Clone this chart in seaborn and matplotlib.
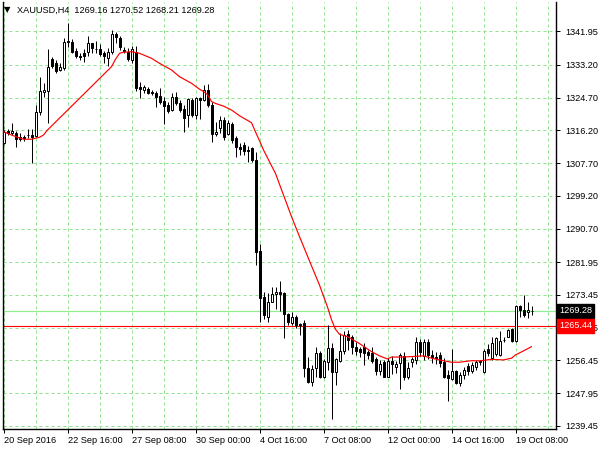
import numpy as np
import pandas as pd
import matplotlib
matplotlib.use("Agg")
import matplotlib.pyplot as plt
import seaborn as sns
from matplotlib.transforms import blended_transform_factory

# ---------------- data (XAUUSD, H4) ----------------
opens = [1313.0, 1316.1, 1315.45, 1315.6, 1314.6, 1314.4, 1314.9, 1315.0, 1314.7, 1321.0,
         1326.3, 1326.5, 1334.75, 1333.6, 1331.9, 1332.3, 1339.3, 1339.25, 1336.9, 1335.5,
         1336.2, 1336.65, 1338.8, 1337.4, 1337.3, 1336.2, 1334.9, 1336.65, 1341.25, 1340.1,
         1337.0, 1336.5, 1334.5, 1336.65, 1327.55, 1326.7, 1326.9, 1326.05, 1325.85, 1325.1,
         1323.9, 1322.8, 1321.5, 1324.95, 1323.4, 1321.75, 1320.2, 1324.1, 1320.2, 1324.7,
         1324.1, 1326.7, 1322.8, 1315.25, 1316.75, 1319.0, 1315.25, 1317.85, 1314.15, 1311.95,
         1312.4, 1311.2, 1311.5, 1308.5, 1284.85, 1273.0, 1267.8, 1271.7, 1273.7, 1274.3,
         1273.85, 1268.5, 1266.2, 1267.6, 1265.9, 1266.05, 1254.4, 1250.9, 1254.4, 1258.4,
         1252.2, 1256.1, 1259.6, 1253.5, 1256.35, 1258.8, 1263.2, 1262.6, 1260.0, 1259.3,
         1259.8, 1258.6, 1258.3, 1256.7, 1253.7, 1255.9, 1252.2, 1256.2, 1254.8, 1255.65,
         1257.5, 1252.0, 1256.0, 1256.5, 1261.25, 1257.55, 1261.25, 1257.9, 1257.2, 1257.8,
         1256.1, 1252.65, 1251.5, 1253.75, 1250.6, 1252.6, 1255.0, 1253.75, 1254.6, 1255.9,
         1253.5, 1259.3, 1256.95, 1258.1, 1257.8, 1261.8, 1262.6, 1264.5, 1261.55, 1270.5,
         1269.6, 1268.9, 1269.16]
highs = [1316.3, 1316.5, 1318.0, 1316.0, 1315.45, 1314.9, 1316.5, 1316.5, 1322.8, 1330.0,
         1328.6, 1337.3, 1335.3, 1334.5, 1333.6, 1340.1, 1344.0, 1339.9, 1337.5, 1336.3,
         1337.3, 1340.7, 1339.0, 1339.5, 1338.7, 1336.9, 1337.5, 1342.3, 1341.85, 1340.6,
         1337.8, 1337.7, 1338.1, 1338.1, 1328.9, 1328.0, 1327.6, 1326.6, 1326.5, 1327.1,
         1324.9, 1323.7, 1326.0, 1326.2, 1324.0, 1322.8, 1324.6, 1324.6, 1325.0, 1325.0,
         1328.0, 1328.3, 1323.7, 1318.5, 1320.0, 1319.7, 1318.9, 1318.4, 1314.8, 1313.0,
         1313.3, 1312.2, 1311.9, 1310.7, 1286.7, 1274.2, 1274.0, 1275.45, 1275.6, 1277.05,
         1274.2, 1268.8, 1268.9, 1268.2, 1266.1, 1267.0, 1257.4, 1255.3, 1259.8, 1258.9,
         1256.9, 1265.5, 1261.0, 1257.0, 1263.5, 1264.0, 1264.3, 1263.1, 1261.2, 1260.0,
         1261.0, 1259.2, 1260.0, 1257.2, 1256.6, 1256.6, 1257.0, 1257.5, 1256.3, 1258.3,
         1258.5, 1256.0, 1257.4, 1262.4, 1262.0, 1262.0, 1262.0, 1259.0, 1258.6, 1258.5,
         1257.0, 1254.0, 1259.3, 1254.0, 1253.3, 1254.6, 1255.7, 1255.9, 1256.6, 1256.6,
         1259.4, 1260.7, 1262.4, 1262.6, 1264.15, 1262.6, 1264.5, 1264.8, 1270.8, 1270.8,
         1273.4, 1271.5, 1270.52]
lows = [1312.6, 1314.9, 1314.9, 1311.8, 1313.5, 1313.4, 1314.15, 1307.8, 1314.5, 1320.2,
        1325.0, 1318.1, 1332.3, 1331.0, 1331.6, 1332.0, 1337.95, 1336.2, 1335.0, 1334.5,
        1334.05, 1335.6, 1336.3, 1336.3, 1335.5, 1333.7, 1332.9, 1336.0, 1339.0, 1337.0,
        1336.3, 1334.1, 1333.6, 1326.5, 1324.7, 1326.0, 1325.6, 1325.3, 1322.35, 1323.05,
        1317.9, 1320.6, 1321.2, 1322.8, 1321.0, 1315.85, 1317.0, 1319.7, 1319.2, 1319.2,
        1323.8, 1322.4, 1313.25, 1314.7, 1315.5, 1313.6, 1315.0, 1312.9, 1309.35, 1309.8,
        1309.9, 1308.05, 1307.9, 1281.2, 1266.5, 1267.3, 1266.5, 1271.6, 1269.7, 1269.35,
        1262.2, 1265.6, 1265.6, 1264.9, 1263.05, 1252.2, 1250.5, 1249.8, 1252.2, 1251.8,
        1251.9, 1253.9, 1241.1, 1250.0, 1256.0, 1258.2, 1259.1, 1258.0, 1257.8, 1257.3,
        1255.25, 1256.8, 1255.7, 1252.6, 1252.7, 1252.0, 1252.0, 1252.9, 1253.2, 1249.1,
        1251.3, 1251.5, 1254.6, 1255.5, 1257.6, 1256.6, 1256.9, 1255.8, 1255.6, 1254.6,
        1251.9, 1245.95, 1251.3, 1250.2, 1249.9, 1251.7, 1252.7, 1253.2, 1254.0, 1255.2,
        1253.2, 1257.6, 1256.5, 1257.6, 1257.6, 1261.2, 1262.4, 1261.2, 1261.2, 1267.6,
        1267.6, 1267.5, 1268.21]
closes = [1315.9, 1315.5, 1316.1, 1313.9, 1313.9, 1314.3, 1315.0, 1314.5, 1321.0, 1326.4,
          1326.7, 1332.75, 1333.0, 1331.7, 1332.6, 1339.25, 1339.1, 1336.65, 1335.5, 1335.2,
          1335.5, 1338.8, 1337.5, 1337.3, 1336.05, 1335.6, 1336.65, 1341.25, 1340.4, 1337.8,
          1336.9, 1334.75, 1337.3, 1327.15, 1326.9, 1327.4, 1326.0, 1325.95, 1324.95, 1323.65,
          1322.55, 1321.3, 1324.8, 1323.25, 1321.5, 1319.5, 1324.3, 1320.2, 1324.5, 1324.1,
          1326.7, 1322.8, 1315.25, 1315.85, 1318.9, 1314.6, 1318.05, 1313.7, 1311.8, 1311.3,
          1310.9, 1310.9, 1308.6, 1284.7, 1272.6, 1268.2, 1271.7, 1273.7, 1274.3, 1273.7,
          1268.5, 1266.5, 1267.8, 1265.6, 1265.6, 1254.4, 1250.9, 1254.1, 1258.4, 1252.2,
          1256.35, 1259.6, 1253.5, 1256.7, 1258.8, 1263.1, 1261.7, 1259.8, 1258.8, 1258.5,
          1258.3, 1257.8, 1256.35, 1253.7, 1255.5, 1252.2, 1256.4, 1255.4, 1255.6, 1257.7,
          1252.0, 1254.4, 1256.7, 1261.25, 1258.65, 1261.25, 1257.8, 1257.4, 1257.0, 1255.65,
          1252.2, 1251.8, 1253.75, 1250.6, 1252.6, 1253.9, 1253.75, 1255.2, 1256.1, 1256.4,
          1258.95, 1258.25, 1260.9, 1262.2, 1261.55, 1261.7, 1264.35, 1261.55, 1270.5, 1269.5,
          1268.2, 1269.5, 1269.28]

# moving average (vertices read at bar numbers)
ma_bar = [0, 1, 2, 4, 5, 7, 9, 10, 11, 27, 28, 29, 30, 32, 34, 37, 39, 42, 44, 47, 49,
          50, 51, 52, 53, 55, 57, 59, 62, 63, 64, 65, 68, 70, 72, 74, 77, 79, 81, 82, 83,
          84, 86, 89, 92, 94, 96, 97, 100, 105, 107, 109, 112, 114, 117, 119, 122, 125,
          127, 128, 130, 132]
ma_val = [1315.86, 1315.44, 1315.0, 1314.22, 1313.9, 1313.9, 1314.4, 1315.0, 1316.3,
          1332.75, 1334.67, 1336.23, 1336.5, 1336.65, 1336.23, 1334.93, 1333.63, 1331.9,
          1330.15, 1328.44, 1326.9, 1326.3, 1325.5, 1323.7, 1323.2, 1322.5, 1321.5, 1320.0,
          1318.2, 1315.8, 1313.5, 1311.1, 1305.0, 1299.4, 1293.8, 1288.6, 1281.0, 1276.0,
          1270.3, 1267.0, 1264.5, 1263.2, 1262.6, 1260.8, 1258.7, 1257.6, 1256.8, 1257.3,
          1257.3, 1257.6, 1257.0, 1256.55, 1255.95, 1255.95, 1256.35, 1256.3, 1256.7,
          1256.55, 1257.0, 1257.85, 1258.9, 1260.0]

price_ticks = [1341.95, 1333.20, 1324.70, 1316.20, 1307.70, 1299.20, 1290.70, 1281.95,
               1273.45, 1264.95, 1256.45, 1247.95, 1239.45]
date_labels = ["20 Sep 2016", "22 Sep 16:00", "27 Sep 08:00", "30 Sep 00:00", "4 Oct 16:00",
               "7 Oct 08:00", "12 Oct 00:00", "14 Oct 16:00", "19 Oct 08:00"]
date_bars = [0, 16, 32, 48, 64, 80, 96, 112, 128]
bid_price = 1269.28
line_price = 1265.44
header = "XAUUSD,H4  1269.16 1270.52 1268.21 1269.28"

# ---------------- style ----------------
sns.set_style("white")
plt.rcParams['font.family'] = ['Liberation Sans', 'DejaVu Sans']
FS = 6.6
PX = 0.72  # one pixel in points at 100 dpi
GRID = '#8fe38f'

fig = plt.figure(figsize=(6, 4.5), dpi=100)
ax = fig.add_axes([2.5 / 600, 21 / 450, 553.5 / 600, 427 / 450])
ax.set_xlim(-0.25, (556 - 3.5) / 4)
ax.set_ylim(1238.6, 1349.56)

# grid
for p in price_ticks:
    ax.axhline(p, color=GRID, lw=PX, ls=(0, (3, 3)), zorder=1)
for b in range(0, 137, 8):
    ax.axvline(b, color=GRID, lw=PX, ls=(0, (3, 3)), zorder=1)

# candles
idx = np.arange(len(opens))
o = np.array(opens); c = np.array(closes)
ax.vlines(idx, lows, highs, color='black', lw=PX, zorder=3)
bottoms = np.minimum(o, c)
heights = np.maximum(np.abs(c - o), 0.12)
face = ['white' if cc >= oo else 'black' for oo, cc in zip(o, c)]
ax.bar(idx, heights, bottom=bottoms, width=0.5, color=face, edgecolor='black',
       linewidth=PX, zorder=4)

# moving average through seaborn
ma_df = pd.DataFrame({'bar': ma_bar, 'ma': ma_val})
sns.lineplot(data=ma_df, x='bar', y='ma', color='#ff0000', lw=0.85, ax=ax, zorder=5,
             sort=False, estimator=None)

# horizontal lines
ax.axhline(bid_price, color='#90ee90', lw=0.85, zorder=2)
ax.axhline(line_price, color='#ff0000', lw=0.8, zorder=2)

# axes / spines
for s in ['left', 'right', 'bottom']:
    ax.spines[s].set_visible(True)
    ax.spines[s].set_color('black')
    ax.spines[s].set_linewidth(1.0)
ax.spines['top'].set_visible(False)

ax.yaxis.tick_right()
ax.set_yticks(price_ticks)
ax.set_yticklabels([f"{p:.2f}" for p in price_ticks])
ax.tick_params(axis='y', which='major', right=True, left=False, direction='out',
               length=3, width=PX, pad=4, labelsize=FS, colors='black')
ax.set_xticks(date_bars)
ax.set_xticklabels(date_labels, ha='left')
ax.tick_params(axis='x', which='major', bottom=True, direction='out', length=3,
               width=PX, pad=2, labelsize=FS, colors='black')
ax.set_xlabel('')
ax.set_ylabel('')

# price tags on the right scale
tr = blended_transform_factory(ax.transAxes, ax.transData)
ax.text(1.0 + 3 / 553.5, bid_price, f"{bid_price:.2f}", transform=tr, ha='left',
        va='center', fontsize=FS, color='white', zorder=10, clip_on=False,
        bbox=dict(boxstyle='square,pad=0.25', fc='black', ec='black'))
ax.text(1.0 + 3 / 553.5, line_price, f"{line_price:.2f}", transform=tr, ha='left',
        va='center', fontsize=FS, color='white', zorder=10, clip_on=False,
        bbox=dict(boxstyle='square,pad=0.25', fc='#ff0000', ec='#ff0000'))

# header
fig.text(4 / 600, 1 - 10 / 450, '\u25bc', fontsize=6, family='DejaVu Sans',
         va='center', ha='left', color='black')
fig.text(17 / 600, 1 - 10 / 450, header, fontsize=FS, va='center', ha='left',
         color='black')

fig.savefig('out.png', dpi=100)
